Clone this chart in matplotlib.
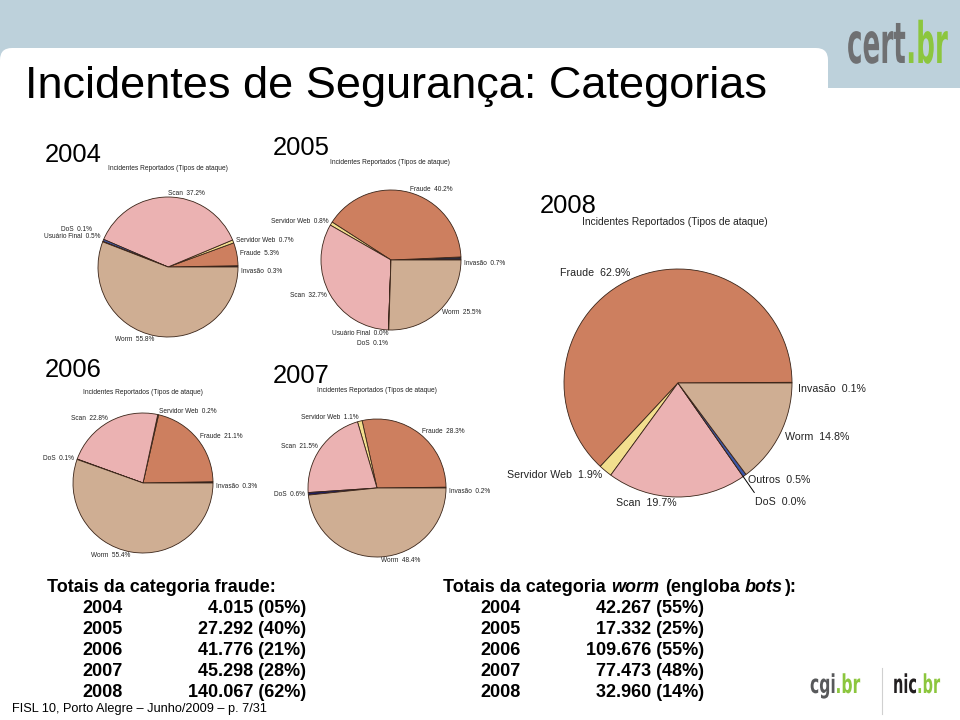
import numpy as np
import matplotlib.pyplot as plt
from matplotlib.patches import Rectangle, FancyBboxPatch, PathPatch
from matplotlib.textpath import TextPath
from matplotlib.font_manager import FontProperties
from matplotlib.transforms import Affine2D

plt.rcParams['font.family'] = ['Liberation Sans', 'DejaVu Sans']

W, H = 960, 720

# slices per year, in R pie() order (counter-clockwise from 3 o'clock)
cats_2004 = ['Invasão', 'Fraude', 'Servidor Web', 'Scan', 'Usuário Final', 'DoS', 'Worm']
pct_2004 = [0.3, 5.3, 0.7, 37.2, 0.5, 0.1, 55.8]
cats_2005 = ['Invasão', 'Fraude', 'Servidor Web', 'Scan', 'Usuário Final', 'DoS', 'Worm']
pct_2005 = [0.7, 40.2, 0.8, 32.7, 0.0, 0.1, 25.5]
cats_2006 = ['Invasão', 'Fraude', 'Servidor Web', 'Scan', 'DoS', 'Worm']
pct_2006 = [0.3, 21.1, 0.2, 22.8, 0.1, 55.4]
cats_2007 = ['Invasão', 'Fraude', 'Servidor Web', 'Scan', 'DoS', 'Worm']
pct_2007 = [0.2, 28.3, 1.1, 21.5, 0.6, 48.4]
cats_2008 = ['Invasão', 'Fraude', 'Servidor Web', 'Scan', 'DoS', 'Outros', 'Worm']
pct_2008 = [0.1, 62.9, 1.9, 19.7, 0.0, 0.5, 14.8]

# totals tables
years = ['2004', '2005', '2006', '2007', '2008']
fraude_totals = ['4.015 (05%)', '27.292 (40%)', '41.776 (21%)', '45.298 (28%)', '140.067 (62%)']
worm_totals = ['42.267 (55%)', '17.332 (25%)', '109.676 (55%)', '77.473 (48%)', '32.960 (14%)']

slice_colors = {
    'Invasão': '#2a2a3a',
    'Fraude': '#cd7f5f',
    'Servidor Web': '#f2df8e',
    'Scan': '#ebb2b2',
    'Usuário Final': '#3a56a8',
    'DoS': '#1e1e5e',
    'Outros': '#3a56a8',
    'Worm': '#cfae93',
}
subtitle = 'Incidentes Reportados (Tipos de ataque)'

fig = plt.figure(figsize=(9.6, 7.2), dpi=100)
ax = fig.add_axes([0, 0, 1, 1])


def Y(y):
    # slide pixel row -> data y (y axis points up)
    return H - y


# header band
ax.add_patch(Rectangle((0, Y(88)), W, 88, color='#bdd1db', lw=0))
ax.add_patch(FancyBboxPatch((0, Y(150)), 828, 102,
                            boxstyle='round,pad=0,rounding_size=12',
                            fc='white', ec='none'))
ax.text(25, Y(98), 'Incidentes de Segurança: Categorias', fontsize=32.5,
        ha='left', va='baseline')


def draw_pie(values, names, cx, cy, r, fs, nudge=None, leader=()):
    nudge = nudge or {}
    wedges, _ = ax.pie(values, colors=[slice_colors[n] for n in names],
                       radius=r, center=(cx, Y(cy)), startangle=0,
                       counterclock=True, frame=True,
                       wedgeprops=dict(edgecolor='#3a2418', linewidth=0.6))
    for w, n, v in zip(wedges, names, values):
        a = np.deg2rad((w.theta1 + w.theta2) / 2)
        c, s = np.cos(a), np.sin(a)
        dx, dy = nudge.get(n, (0, 0))
        ax.text(cx + 1.05 * r * c + dx, Y(cy) + 1.05 * r * s - dy,
                f'{n}  {v:.1f}%', fontsize=fs, color='#222222',
                ha='left' if c >= 0 else 'right', va='center')
        if n in leader:
            ax.plot([cx + r * c, cx + 1.17 * r * c],
                    [Y(cy) + r * s, Y(cy) + 1.17 * r * s],
                    color='black', lw=0.7)


def year_block(year, x, base, sx, sy, sfs):
    ax.text(x, Y(base), year, fontsize=18.4, ha='left', va='baseline')
    ax.text(sx, Y(sy), subtitle, fontsize=sfs, color='#222222',
            ha='left', va='center')


year_block('2004', 45, 162, 108, 168, 4.75)
draw_pie(pct_2004, cats_2004, 168, 267, 70, 4.7,
         nudge={'Invasão': (0, 5), 'DoS': (-8, -11), 'Usuário Final': (0, -3)})

year_block('2005', 273, 155, 330, 163, 4.75)
draw_pie(pct_2005, cats_2005, 391, 260, 70, 4.7,
         nudge={'Invasão': (0, 5), 'DoS': (0, 10)})

year_block('2006', 45, 377, 83, 393, 4.75)
draw_pie(pct_2006, cats_2006, 143, 483, 70, 4.7, nudge={'Invasão': (0, 4)})

year_block('2007', 273, 383, 317, 390, 4.75)
draw_pie(pct_2007, cats_2007, 377, 488, 69, 4.7, nudge={'Invasão': (0, 4)})

year_block('2008', 540, 213, 582, 222, 7.4)
draw_pie(pct_2008, cats_2008, 678, 383, 114, 7.7,
         nudge={'Invasão': (0, 6), 'DoS': (9, 21)}, leader=('DoS',))

# totals tables
fs = 13
for i, (yr, ft, wt) in enumerate(zip(years, fraude_totals, worm_totals)):
    yb = Y(613 + 21 * i)
    ax.text(82, yb, yr, fontsize=fs, fontweight='bold', ha='left', va='baseline')
    ax.text(306, yb, ft, fontsize=fs, fontweight='bold', ha='right', va='baseline')
    ax.text(480, yb, yr, fontsize=fs, fontweight='bold', ha='left', va='baseline')
    ax.text(704, yb, wt, fontsize=fs, fontweight='bold', ha='right', va='baseline')

ax.text(47, Y(592), 'Totais da categoria fraude:', fontsize=fs,
        fontweight='bold', ha='left', va='baseline')

renderer = fig.canvas.get_renderer()
space = 0.278 * fs * 100 / 72
x = 443
for seg, st, gap in [('Totais da categoria', 'normal', space), ('worm', 'italic', space + 1),
                     ('(engloba', 'normal', space), ('bots', 'italic', 1),
                     ('):', 'normal', 0)]:
    t = ax.text(x, Y(592), seg, fontsize=fs, fontweight='bold', style=st,
                ha='left', va='baseline')
    x += t.get_window_extent(renderer).width + gap

ax.text(12, Y(712), 'FISL 10, Porto Alegre – Junho/2009 – p. 7/31',
        fontsize=9.2, ha='left', va='baseline')


# logos drawn as condensed text paths
def logo(parts, x, base, size, sx):
    fp = FontProperties(family='DejaVu Sans', weight='bold')
    for s, c in parts:
        tp = TextPath((0, 0), s, size=size, prop=fp)
        tr = Affine2D().scale(sx, 1).translate(x, Y(base))
        ax.add_patch(PathPatch(tr.transform_path(tp), fc=c, ec='none'))
        x += tp.get_extents().x1 * sx + 1


logo([('cert', '#6f7072'), ('.br', '#8cc63e')], 847, 63, 57, 0.46)
logo([('cgi', '#58595b'), ('.br', '#8cc63e')], 810, 693, 26, 0.6)
logo([('nic', '#231f20'), ('.br', '#8cc63e')], 893, 693, 26, 0.56)
ax.plot([882, 882], [Y(668), Y(714)], color='#d0d0d0', lw=0.8)

ax.set_xlim(0, W)
ax.set_ylim(0, H)
ax.axis('off')

fig.savefig('out.png', dpi=100)
